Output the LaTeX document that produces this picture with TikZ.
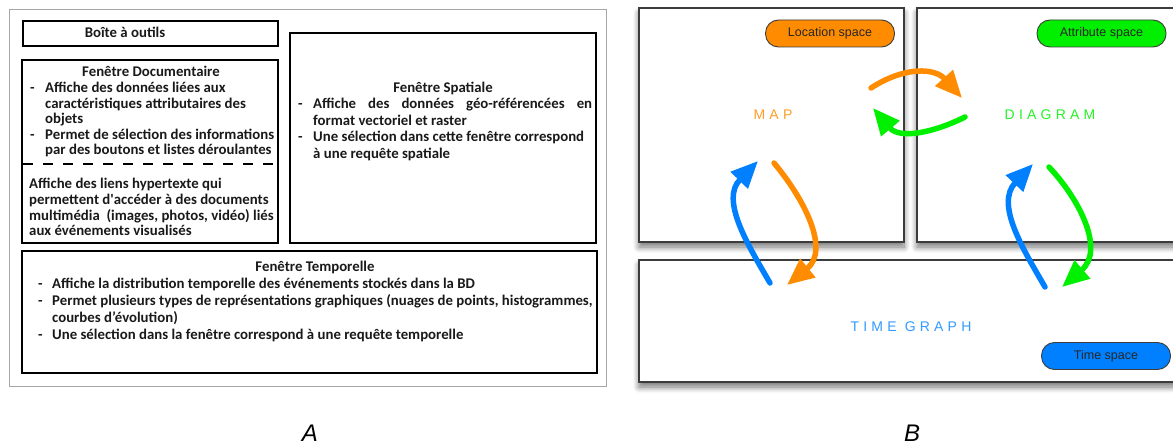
\documentclass[tikz,border=0pt]{standalone}
\usepackage{fontspec}
\usetikzlibrary{arrows.meta,shadows.blur,positioning}
\newfontfamily\calib{Carlito}
\newfontfamily\arial{Liberation Sans}
\newfontfamily\arialspaced[LetterSpace=30]{Liberation Sans}
\definecolor{mapcol}{RGB}{255,140,0}
\definecolor{diacol}{RGB}{0,240,0}
\definecolor{timecol}{RGB}{0,128,255}
\definecolor{rahmen}{RGB}{60,60,60}

\begin{document}
\begin{tikzpicture}[x=1pt, y=-1pt,
		kasten/.style={draw=black, line width=1.8pt},
		fenster/.style={draw=rahmen, line width=1.4pt, fill=white,
			blur shadow={shadow xshift=0pt, shadow yshift=-5pt, shadow blur radius=6pt, shadow blur steps=10, shadow opacity=55}},
		raum/.style={draw=rahmen, line width=0.9pt, rounded corners=13pt, minimum width=129pt, minimum height=27pt,
			inner sep=0pt, font=\arial\fontsize{12.5}{14}\selectfont, text=black!85},
		titel/.style={font=\arialspaced\fontsize{14}{16}\selectfont},
		txt/.style={inner sep=0pt, font=\calib\bfseries\fontsize{14.8}{#1}\selectfont, text=black!90},
		txt/.default=15.4,
		fluss/.style={line width=5.5pt, line cap=round, -{Triangle[length=27pt,width=23pt]}}]
	\useasboundingbox (0,0) rectangle (1173,446);
	% Teil A: Rahmen
	\draw[gray!70, line width=1pt] (9,10) rectangle (606,386);
	\draw[kasten] (23,21) rectangle (278,46);
	\draw[kasten] (22,60) rectangle (278,243);
	\draw[kasten] (290,33) rectangle (596,243);
	\draw[kasten] (22,251) rectangle (597,373);
	\draw[line width=1.5pt, dash pattern=on 10pt off 10pt] (23,164) -- (278,164);
	% Teil A: Texte
	\node[txt, anchor=base] (boite) at (125,38) {Boîte à outils};
	\node[txt, anchor=base] (doctitel) at (151,77) {Fenêtre Documentaire};
	\node[txt, anchor=base west] (docliste) at (30,93) {\begin{tabular}[t]{@{}p{15pt}@{}l@{}}
			- & Affiche des données liées aux\\
			& caractéristiques attributaires des\\
			& objets\\
			- & Permet de sélection des informations\\
			& par des boutons et listes déroulantes
		\end{tabular}};
	\node[txt, anchor=base west] (doclinks) at (29,189) {\begin{tabular}[t]{@{}l@{}}
			Affiche des liens hypertexte qui\\
			permettent d\textquotesingle accéder à des documents\\
			multimédia~ (images, photos, vidéo) liés\\
			aux événements visualisés
		\end{tabular}};
	\node[txt, anchor=base] (spatitel) at (443,93) {Fenêtre Spatiale};
	\node[txt=16.4, anchor=base west] (spaliste) at (298,109) {\begin{tabular}[t]{@{}p{15pt}@{}l@{}}
			- & \makebox[279pt][s]{Affiche des données géo-référencées en}\\
			& format vectoriel et raster\\
			- & Une sélection dans cette fenêtre correspond\\
			& à une requête spatiale
		\end{tabular}};
	\node[txt, anchor=base] (temptitel) at (315,272) {Fenêtre Temporelle};
	\node[txt=16.7, anchor=base west] (templiste) at (38,289) {\begin{tabular}[t]{@{}p{14pt}@{}l@{}}
			- & Affiche la distribution temporelle des événements stockés dans la BD\\
			- & Permet plusieurs types de représentations graphiques (nuages de points, histogrammes,\\
			& courbes d’évolution)\\
			- & Une sélection dans la fenêtre correspond à une requête temporelle
		\end{tabular}};
	\node[font=\arial\itshape\fontsize{24}{26}\selectfont] (labelA) at (310,433) {A};
	% Teil B: Fenster
	\draw[fenster] (639,8) rectangle (904,242);
	\draw[fenster] (917,8) rectangle (1185,242);
	\draw[fenster] (639,260) rectangle (1185,382);
	\node[raum, fill=mapcol] (loc) at (830,33.5) {Location space};
	\node[raum, fill=diacol] (attr) at (1101.5,33.5) {Attribute space};
	\node[raum, fill=timecol] (zeit) at (1106,356) {Time space};
	\node[titel, text=mapcol!85] (map) at (773,115) {MAP};
	\node[titel, text=diacol!85] (diagram) at (1050,115) {DIAGRAM};
	\node[titel, text=timecol!80] (graph) at (911,327) {TIME GRAPH};
	\node[font=\arial\itshape\fontsize{24}{26}\selectfont] (labelB) at (912,433) {B};
	% Teil B: Pfeile
	\coordinate (mo1) at (871,88);  \coordinate (mo2) at (962,98);
	\coordinate (do1) at (965,117); \coordinate (do2) at (873,108);
	\coordinate (ml1) at (774,163); \coordinate (ml2) at (787,285);
	\coordinate (tl1) at (770,283); \coordinate (tl2) at (758,161);
	\coordinate (dr1) at (1049,167); \coordinate (dr2) at (1062,287);
	\coordinate (tr1) at (1045,287); \coordinate (tr2) at (1033,164);
	\draw[fluss, mapcol] (mo1) .. controls (905,66) and (935,68) .. (mo2);
	\draw[fluss, diacol] (do1) .. controls (935,132) and (900,140) .. (do2);
	\draw[fluss, mapcol] (ml1) .. controls (805,200) and (830,250) .. (ml2);
	\draw[fluss, timecol] (tl1) .. controls (748,245) and (720,200) .. (tl2);
	\draw[fluss, diacol] (dr1) .. controls (1080,200) and (1105,250) .. (dr2);
	\draw[fluss, timecol] (tr1) .. controls (1023,249) and (995,204) .. (tr2);
\end{tikzpicture}
\end{document}
